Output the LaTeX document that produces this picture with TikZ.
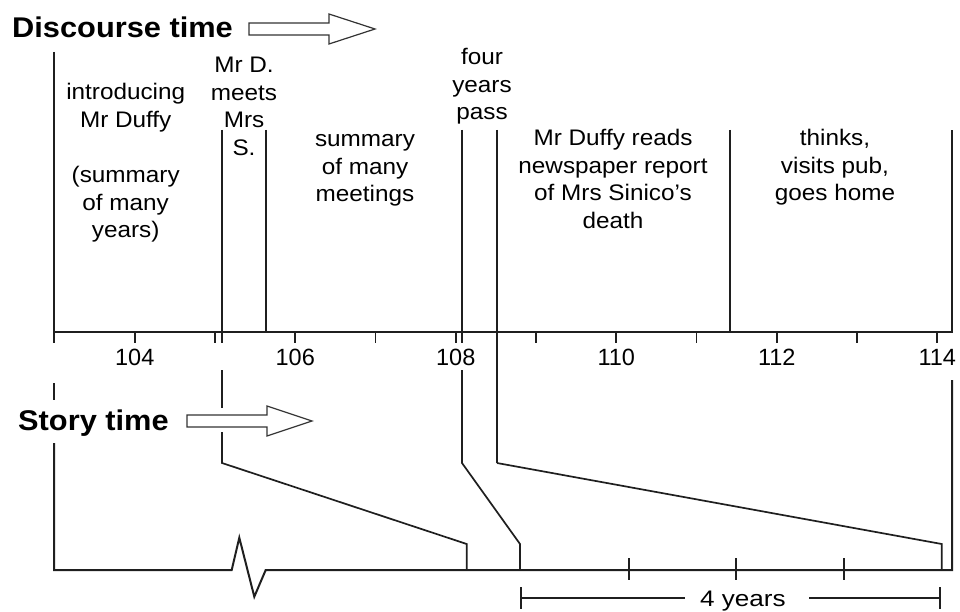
\documentclass[tikz,border=0pt]{standalone}
\usepackage{fontspec}
\setmainfont{Liberation Sans}
\newfontfamily\txtfont[FakeStretch=1.08]{Liberation Sans}
\newfontfamily\numfont{Liberation Sans}
\newfontfamily\yrsfont[FakeStretch=1.16]{Liberation Sans}
\begin{document}
\begin{tikzpicture}[x=1pt,y=-1pt,
  ink/.style={draw=black!88},
  axisline/.style={ink,line width=2pt},
  divline/.style={ink,line width=1.7pt},
  linkline/.style={ink,line width=1.7pt},
  bigarrow/.style={draw=black!80,line width=1.2pt,fill=white,line join=miter},
  lbl/.style={anchor=base,align=center,inner sep=0pt,font=\txtfont\fontsize{22.5}{27.5}\selectfont},
  numlbl/.style={anchor=base,inner sep=0pt,font=\numfont\fontsize{23.5}{27.5}\selectfont},
  title/.style={anchor=base west,inner sep=0pt,font=\txtfont\bfseries\fontsize{28.5}{32}\selectfont}]
\useasboundingbox (0,0) rectangle (960,612);

% titles
\node[title] (dt) at (12,37.3) {Discourse time};
\node[title] (st) at (18,430) {Story time};

% outline arrows
\draw[bigarrow] (249,23) -- (329,23) -- (329,14) -- (375,29) -- (329,44) -- (329,35) -- (249,35) -- cycle;
\draw[bigarrow] (187,415) -- (267,415) -- (267,406) -- (312,421) -- (267,436) -- (267,427) -- (187,427) -- cycle;

% discourse axis
\coordinate (dL) at (54,332);
\coordinate (dR) at (952,332);
\coordinate (dLtop) at (54,52);
\coordinate (dLbot) at (54,343);
\coordinate (dRtop) at (952,130);
\draw[axisline] (dLtop) -- (dLbot);
\draw[axisline] (dL) -- (dR) -- (dRtop);
\foreach \t in {104,...,114}{
  \pgfmathsetmacro{\xx}{54.5+80.25*(\t-103)}
  \draw[divline] (\xx,332) -- (\xx,343);
}
\foreach \t in {104,106,...,114}{
  \pgfmathsetmacro{\xx}{54.5+80.25*(\t-103)}
  \node[numlbl] (n\t) at (\xx,365.5) {\t};
}

% dividers on discourse axis
\coordinate (a1) at (222,130); \coordinate (a2) at (222,343);
\coordinate (b1) at (266,130); \coordinate (b2) at (266,332);
\coordinate (c1) at (462,130); \coordinate (c2) at (462,343);
\coordinate (d1) at (497,130);
\coordinate (e1) at (730,130); \coordinate (e2) at (730,332);
\draw[divline] (a1) -- (a2);
\draw[divline] (b1) -- (b2);
\draw[divline] (c1) -- (c2);
\draw[divline] (e1) -- (e2);

% story axis
\coordinate (sLtop) at (54,383);
\coordinate (sLgap1) at (54,400);
\coordinate (sLgap2) at (54,443);
\coordinate (sL) at (54,570);
\coordinate (z1) at (231.7,570);
\coordinate (z2) at (239.3,537.7);
\coordinate (z3) at (254.3,596.7);
\coordinate (z4) at (265.7,570);
\coordinate (sR) at (952,570);
\coordinate (sRtop) at (952,380);
\draw[axisline] (sLtop) -- (sLgap1);
\draw[axisline,line join=miter] (sLgap2) -- (sL) -- (z1) -- (z2) -- (z3) -- (z4) -- (sR) -- (sRtop);
\foreach \xx in {629,736,844}{
  \draw[divline] (\xx,558) -- (\xx,580);
}

% links from discourse to story
\coordinate (p1a) at (222,370); \coordinate (p1b) at (222,408);
\coordinate (p1c) at (222,432); \coordinate (p1d) at (222,463);
\coordinate (p1e) at (466.7,544); \coordinate (p1f) at (466.7,570);
\draw[linkline] (p1a) -- (p1b);
\draw[linkline] (p1c) -- (p1d) -- (p1e) -- (p1f);

\coordinate (p2a) at (462,370); \coordinate (p2d) at (462,463);
\coordinate (p2e) at (520,544); \coordinate (p2f) at (520,570);
\draw[linkline] (p2a) -- (p2d) -- (p2e) -- (p2f);

\coordinate (p3d) at (497,463);
\coordinate (p3e) at (941.7,544); \coordinate (p3f) at (941.7,570);
\draw[divline] (d1) -- (p3d);
\draw[linkline] (p3d) -- (p3e) -- (p3f);

% 4 years scale
\coordinate (yL) at (521,598); \coordinate (yLm) at (685,598);
\coordinate (yRm) at (809,598); \coordinate (yR) at (940,598);
\draw[divline] (yL) -- (yLm);
\draw[divline] (yRm) -- (yR);
\draw[divline] (521,587) -- (521,609);
\draw[divline] (940,587) -- (940,609);
\node[anchor=base,inner sep=0pt,font=\yrsfont\fontsize{22.5}{27.5}\selectfont] (fy) at (742.8,606.5) {4 years};

% text blocks (anchor = baseline of the last line)
\node[lbl] (t1) at (125.7,237.5) {introducing\\Mr Duffy\\[27.5pt](summary\\of many\\years)};
\node[lbl] (t2) at (244,155.2) {Mr D.\\meets\\Mrs\\S.};
\node[lbl] (t3) at (365,201.7) {summary\\of many\\meetings};
\node[lbl] (t4) at (482,120) {four\\years\\pass};
\node[lbl] (t5) at (613,228.5) {Mr Duffy reads\\newspaper report\\of Mrs Sinico’s\\death};
\node[lbl] (t6) at (835,201) {thinks,\\visits pub,\\goes home};
\end{tikzpicture}
\end{document}
